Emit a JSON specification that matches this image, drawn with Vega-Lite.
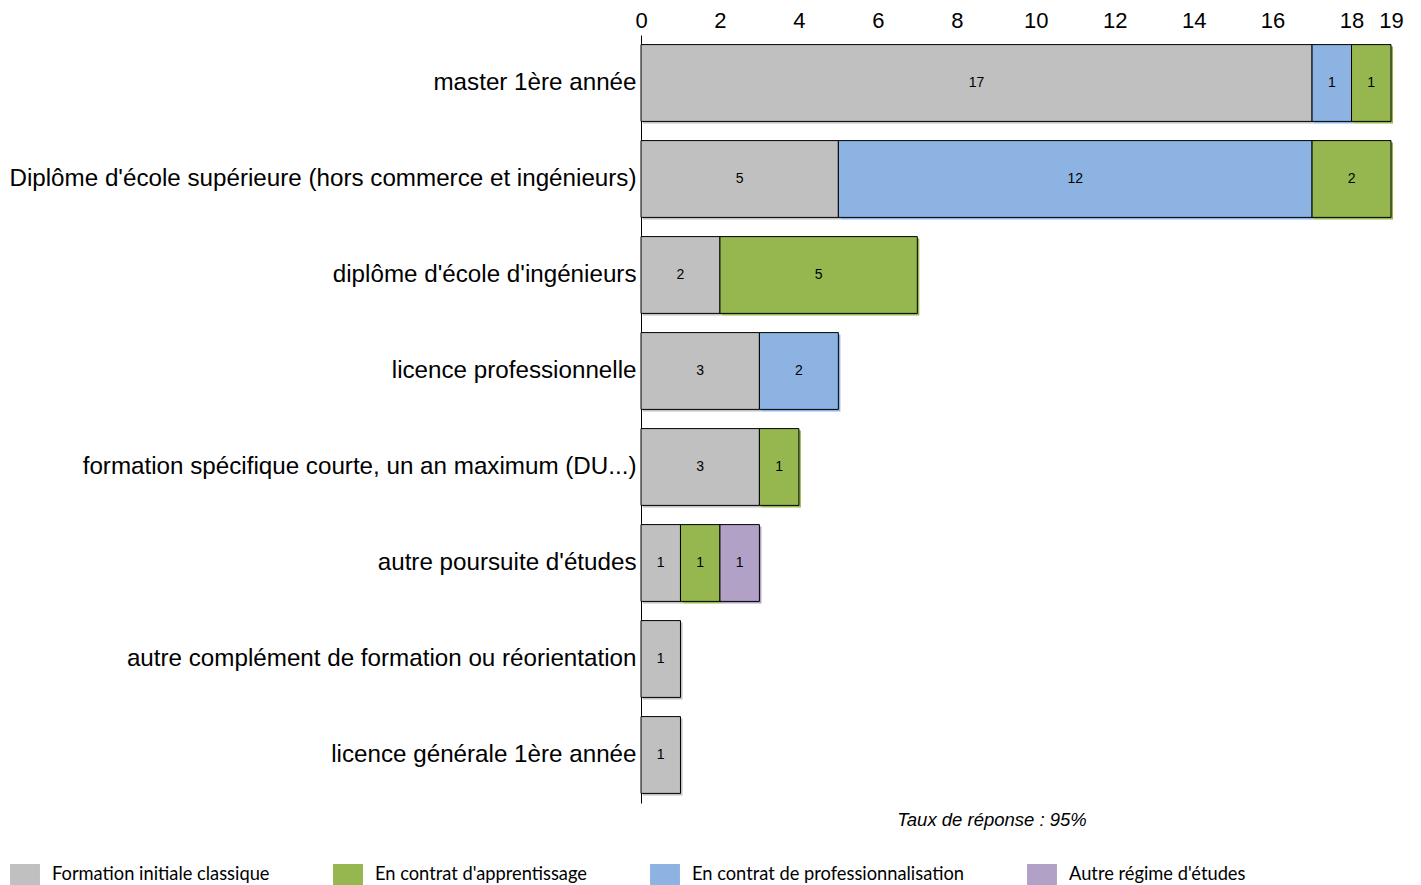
{
  "$schema": "https://vega.github.io/schema/vega-lite/v6.json",
  "autosize": "none",
  "width": 750,
  "height": 768,
  "padding": {"left": 641, "top": 35, "right": 30, "bottom": 82},
  "background": "white",
  "config": {
    "view": {"stroke": null},
    "font": "Liberation Sans"
  },
  "title": {
    "text": "Taux de réponse : 95%",
    "orient": "bottom",
    "anchor": "middle",
    "font": "Liberation Sans",
    "fontSize": 18.5,
    "fontStyle": "italic",
    "fontWeight": "normal",
    "color": "black",
    "offset": 5,
    "dx": -24,
    "dy": -80
  },
  "data": {
    "values": [
      {"formation": "master 1ère année", "regime": "Formation initiale classique", "rang": 1, "n": 17},
      {"formation": "master 1ère année", "regime": "En contrat de professionnalisation", "rang": 2, "n": 1},
      {"formation": "master 1ère année", "regime": "En contrat d'apprentissage", "rang": 3, "n": 1},
      {"formation": "Diplôme d'école supérieure (hors commerce et ingénieurs)", "regime": "Formation initiale classique", "rang": 1, "n": 5},
      {"formation": "Diplôme d'école supérieure (hors commerce et ingénieurs)", "regime": "En contrat de professionnalisation", "rang": 2, "n": 12},
      {"formation": "Diplôme d'école supérieure (hors commerce et ingénieurs)", "regime": "En contrat d'apprentissage", "rang": 3, "n": 2},
      {"formation": "diplôme d'école d'ingénieurs", "regime": "Formation initiale classique", "rang": 1, "n": 2},
      {"formation": "diplôme d'école d'ingénieurs", "regime": "En contrat d'apprentissage", "rang": 3, "n": 5},
      {"formation": "licence professionnelle", "regime": "Formation initiale classique", "rang": 1, "n": 3},
      {"formation": "licence professionnelle", "regime": "En contrat de professionnalisation", "rang": 2, "n": 2},
      {"formation": "formation spécifique courte, un an maximum (DU...)", "regime": "Formation initiale classique", "rang": 1, "n": 3},
      {"formation": "formation spécifique courte, un an maximum (DU...)", "regime": "En contrat d'apprentissage", "rang": 3, "n": 1},
      {"formation": "autre poursuite d'études", "regime": "Formation initiale classique", "rang": 1, "n": 1},
      {"formation": "autre poursuite d'études", "regime": "En contrat d'apprentissage", "rang": 3, "n": 1},
      {"formation": "autre poursuite d'études", "regime": "Autre régime d'études", "rang": 4, "n": 1},
      {"formation": "autre complément de formation ou réorientation", "regime": "Formation initiale classique", "rang": 1, "n": 1},
      {"formation": "licence générale 1ère année", "regime": "Formation initiale classique", "rang": 1, "n": 1}
    ]
  },
  "encoding": {
    "y": {
      "field": "formation",
      "type": "nominal",
      "sort": null,
      "scale": {"paddingInner": 0.2, "paddingOuter": 0.1},
      "axis": {
        "title": null,
        "ticks": false,
        "domain": true,
        "domainColor": "black",
        "domainWidth": 1,
        "labelFont": "Liberation Sans",
        "labelFontSize": 24.2,
        "labelColor": "black",
        "labelPadding": 5,
        "labelLimit": 700
      }
    },
    "x": {
      "field": "n",
      "type": "quantitative",
      "stack": "zero",
      "scale": {"domain": [0, 19], "nice": false},
      "axis": {
        "orient": "top",
        "title": null,
        "values": [0, 2, 4, 6, 8, 10, 12, 14, 16, 18, 19],
        "grid": false,
        "ticks": false,
        "domain": false,
        "labelFont": "Liberation Sans",
        "labelFontSize": 22,
        "labelColor": "black",
        "labelPadding": 3,
        "labelOverlap": false,
        "labelFlush": false
      }
    },
    "order": {"field": "rang", "type": "quantitative"},
    "color": {
      "field": "regime",
      "type": "nominal",
      "scale": {
        "domain": ["Formation initiale classique", "En contrat d'apprentissage", "En contrat de professionnalisation", "Autre régime d'études"],
        "range": ["#C0C0C0", "#96B74F", "#8DB3E2", "#B2A1C7"]
      },
      "legend": {
        "orient": "none",
        "legendX": -627,
        "legendY": 829,
        "direction": "horizontal",
        "columns": 4,
        "title": null,
        "padding": 0,
        "symbolType": "M-1.36,-1L1.36,-1L1.36,1L-1.36,1Z",
        "symbolSize": 484,
        "symbolStrokeWidth": 0,
        "symbolOpacity": 1,
        "labelFont": "Lato",
        "labelFontSize": 18.3,
        "labelColor": "black",
        "labelOffset": 16,
        "columnPadding": 63,
        "labelLimit": 400
      }
    }
  },
  "layer": [
    {
      "mark": {"type": "bar", "strokeWidth": 0, "xOffset": 2, "yOffset": 2}
    },
    {
      "mark": {"type": "bar", "stroke": "black", "strokeWidth": 1}
    },
    {
      "mark": {"type": "text", "font": "Liberation Sans", "fontSize": 14},
      "encoding": {
        "x": {"field": "n", "type": "quantitative", "stack": "zero", "bandPosition": 0.5},
        "text": {"field": "n", "type": "quantitative"},
        "color": {"value": "black"}
      }
    }
  ]
}
